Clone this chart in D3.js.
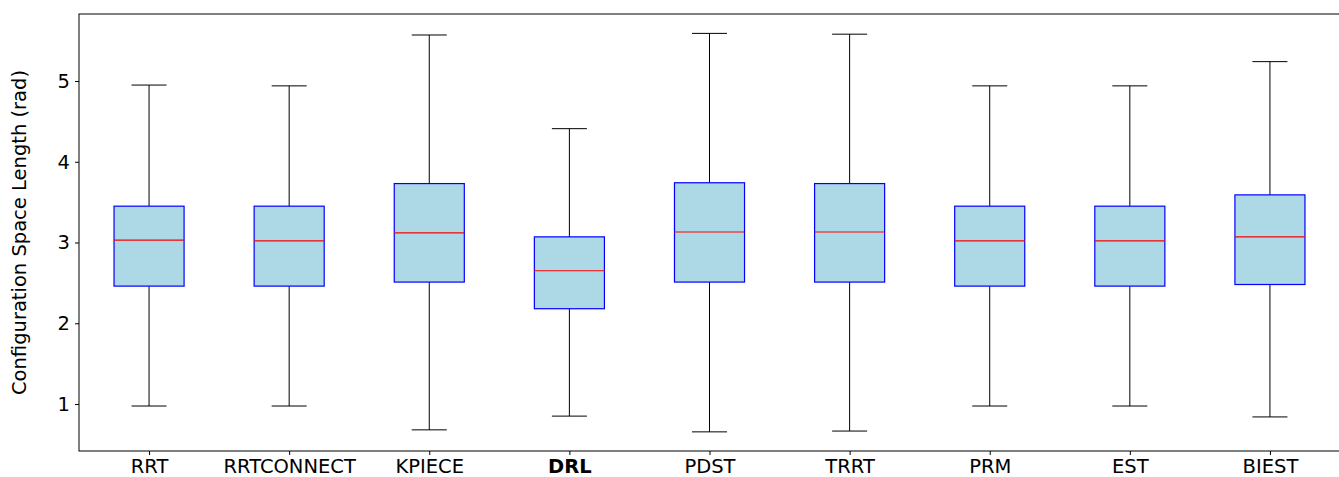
<html>
<script src="https://d3js.org/d3.v7.min.js"></script>
<body style="margin:0;background:#fff">
<svg id="chart" width="1339" height="477"></svg>
<script>
    // planners and their box stats
    let planners = ["RRT", "RRTCONNECT", "KPIECE", "DRL", "PDST", "TRRT", "PRM", "EST", "BIEST"];
    let whiskerLow = [0.975, 0.975, 0.68, 0.85, 0.655, 0.665, 0.975, 0.975, 0.84];
    let q1 = [2.46, 2.46, 2.51, 2.18, 2.51, 2.51, 2.46, 2.46, 2.48];
    let median = [3.03, 3.02, 3.12, 2.65, 3.13, 3.13, 3.02, 3.02, 3.07];
    let q3 = [3.45, 3.45, 3.73, 3.07, 3.74, 3.73, 3.45, 3.45, 3.59];
    let whiskerHigh = [4.95, 4.94, 5.57, 4.41, 5.59, 5.58, 4.94, 4.94, 5.24];
    let yTicks = [1, 2, 3, 4, 5];

    let svg = d3.select("#chart");
    let margin = {left: 79, right: -1, top: 14, bottom: 26};
    let width = 1339 - margin.left - margin.right,
        height = 477 - margin.top - margin.bottom;
    let g = svg.append("g").attr("transform", `translate(${margin.left},${margin.top})`);

    let x = d3.scaleLinear().domain([0.5, planners.length + 0.5]).range([0, width]);
    let y = d3.scaleLinear().domain([0.418, 5.83]).range([height, 0]);
    let boxW = x(1.25) - x(1), capW = x(1.125) - x(1);

    let rows = planners.map((p, i) => ({name: p, pos: i + 1, lo: whiskerLow[i], q1: q1[i], med: median[i], q3: q3[i], hi: whiskerHigh[i]}));

    let box = g.selectAll(".box").data(rows).join("g").attr("class", "box");
    // whiskers
    box.append("line").attr("x1", d => x(d.pos)).attr("x2", d => x(d.pos))
        .attr("y1", d => y(d.hi)).attr("y2", d => y(d.q3)).attr("stroke", "#000").attr("stroke-width", 1);
    box.append("line").attr("x1", d => x(d.pos)).attr("x2", d => x(d.pos))
        .attr("y1", d => y(d.q1)).attr("y2", d => y(d.lo)).attr("stroke", "#000").attr("stroke-width", 1);
    // caps
    box.append("line").attr("x1", d => x(d.pos) - capW).attr("x2", d => x(d.pos) + capW)
        .attr("y1", d => y(d.hi)).attr("y2", d => y(d.hi)).attr("stroke", "#000").attr("stroke-width", 1);
    box.append("line").attr("x1", d => x(d.pos) - capW).attr("x2", d => x(d.pos) + capW)
        .attr("y1", d => y(d.lo)).attr("y2", d => y(d.lo)).attr("stroke", "#000").attr("stroke-width", 1);
    // boxes
    box.append("rect").attr("x", d => x(d.pos) - boxW).attr("width", boxW * 2)
        .attr("y", d => y(d.q3)).attr("height", d => y(d.q1) - y(d.q3))
        .attr("fill", "lightblue").attr("stroke", "blue").attr("stroke-width", 1.2);
    box.append("line").attr("x1", d => x(d.pos) - boxW).attr("x2", d => x(d.pos) + boxW)
        .attr("y1", d => y(d.med)).attr("y2", d => y(d.med)).attr("stroke", "red").attr("stroke-width", 1.2);

    // axes
    let xAxis = d3.axisBottom(x).tickValues(rows.map(d => d.pos)).tickFormat(i => planners[i - 1]).tickSizeOuter(0).tickSize(4).tickPadding(4);
    let yAxis = d3.axisLeft(y).tickValues(yTicks).tickFormat(d3.format("d")).tickSizeOuter(0).tickSize(4).tickPadding(5);
    let xa = g.append("g").attr("transform", `translate(0,${height})`).call(xAxis);
    let ya = g.append("g").call(yAxis);
    [xa, ya].forEach(a => {
        a.select(".domain").remove();
        a.selectAll("text").style("font-family", "DejaVu Sans").style("font-size", "19.5px").attr("fill", "#000");
        a.selectAll("line").attr("stroke", "#000");
    });
    xa.selectAll("text").filter(i => planners[i - 1] === "DRL").style("font-weight", "bold");

    // frame
    g.append("rect").attr("width", width).attr("height", height)
        .attr("fill", "none").attr("stroke", "#000").attr("stroke-width", 1);

    svg.append("text").attr("transform", `translate(26,${margin.top + height / 2}) rotate(-90)`)
        .attr("text-anchor", "middle").style("font-family", "DejaVu Sans").style("font-size", "19.5px")
        .text("Configuration Space Length (rad)");
</script>
</body>
</html>
